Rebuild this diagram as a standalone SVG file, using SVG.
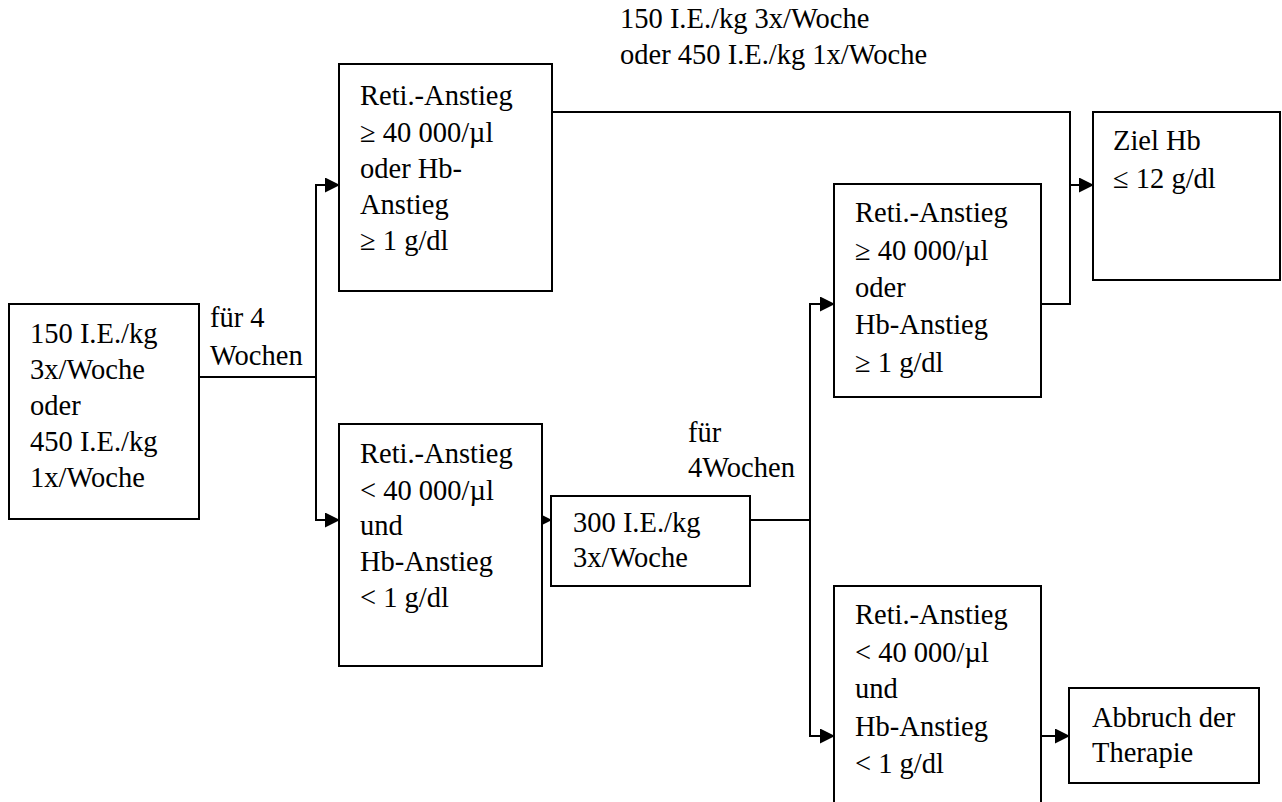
<svg xmlns="http://www.w3.org/2000/svg" width="1282" height="802" viewBox="0 0 1282 802">
<style>
.box{fill:#fff;stroke:#000;stroke-width:2}
.t{font-family:"Liberation Serif","Times New Roman",serif;font-size:28.5px;fill:#000}
.c{fill:none;stroke:#000;stroke-width:2}
</style>
<defs>
<marker id="ah" markerUnits="userSpaceOnUse" markerWidth="15" markerHeight="15" refX="14" refY="7.5" orient="auto">
<path d="M0,0 L15,7.5 L0,15 z" fill="#000"/>
</marker>
</defs>
<rect width="1282" height="802" fill="#fff"/>
<g id="connectors">
<path class="c" d="M199,377 H316"/>
<path class="c" d="M316,377 V185 H339" marker-end="url(#ah)"/>
<path class="c" d="M316,377 V520 H339" marker-end="url(#ah)"/>
<path class="c" d="M552,112 H1070 V304 H1041"/>
<path class="c" d="M1070,185 H1093" marker-end="url(#ah)"/>
<path class="c" d="M528,520 H551" marker-end="url(#ah)"/>
<path class="c" d="M750,520 H810"/>
<path class="c" d="M810,520 V304 H834" marker-end="url(#ah)"/>
<path class="c" d="M810,520 V736 H834" marker-end="url(#ah)"/>
<path class="c" d="M1041,736 H1069" marker-end="url(#ah)"/>
</g>
<g id="label-top">
<text class="t" x="620" y="28">150 I.E./kg 3x/Woche</text>
<text class="t" x="620" y="64">oder 450 I.E./kg 1x/Woche</text>
</g>
<g id="label-4wochen">
<text class="t" x="210" y="327">für 4</text>
<text class="t" x="210" y="365">Wochen</text>
</g>
<g id="label-4wochen2">
<text class="t" x="688" y="442">für</text>
<text class="t" x="688" y="477">4Wochen</text>
</g>
<g id="start">
<rect class="box" x="9" y="304" width="190" height="215"/>
<text class="t" x="30" y="343">150 I.E./kg</text>
<text class="t" x="30" y="379">3x/Woche</text>
<text class="t" x="30" y="415">oder</text>
<text class="t" x="30" y="451">450 I.E./kg</text>
<text class="t" x="30" y="487">1x/Woche</text>
</g>
<g id="resp1">
<rect class="box" x="339" y="64" width="213" height="227"/>
<text class="t" x="360" y="105">Reti.-Anstieg</text>
<text class="t" x="360" y="142">≥ 40 000/µl</text>
<text class="t" x="360" y="178">oder Hb-</text>
<text class="t" x="360" y="214">Anstieg</text>
<text class="t" x="360" y="250">≥ 1 g/dl</text>
</g>
<g id="noresp1">
<rect class="box" x="339" y="424" width="203" height="242"/>
<text class="t" x="360" y="463">Reti.-Anstieg</text>
<text class="t" x="360" y="500">&lt; 40 000/µl</text>
<text class="t" x="360" y="535">und</text>
<text class="t" x="360" y="571">Hb-Anstieg</text>
<text class="t" x="360" y="607">&lt; 1 g/dl</text>
</g>
<g id="dose300">
<rect class="box" x="551" y="496" width="199" height="90"/>
<text class="t" x="573" y="532">300 I.E./kg</text>
<text class="t" x="573" y="567">3x/Woche</text>
</g>
<g id="resp2">
<rect class="box" x="834" y="184" width="207" height="213"/>
<text class="t" x="855" y="222">Reti.-Anstieg</text>
<text class="t" x="855" y="260">≥ 40 000/µl</text>
<text class="t" x="855" y="297">oder</text>
<text class="t" x="855" y="334">Hb-Anstieg</text>
<text class="t" x="855" y="372">≥ 1 g/dl</text>
</g>
<g id="ziel">
<rect class="box" x="1093" y="112" width="187" height="168"/>
<text class="t" x="1113" y="150">Ziel Hb</text>
<text class="t" x="1113" y="188">≤ 12 g/dl</text>
</g>
<g id="noresp2">
<rect class="box" x="834" y="586" width="207" height="230"/>
<text class="t" x="855" y="624">Reti.-Anstieg</text>
<text class="t" x="855" y="662">&lt; 40 000/µl</text>
<text class="t" x="855" y="698">und</text>
<text class="t" x="855" y="736">Hb-Anstieg</text>
<text class="t" x="855" y="773">&lt; 1 g/dl</text>
</g>
<g id="abbruch">
<rect class="box" x="1069" y="688" width="190" height="95"/>
<text class="t" x="1092" y="727">Abbruch der</text>
<text class="t" x="1092" y="762">Therapie</text>
</g>
</svg>
